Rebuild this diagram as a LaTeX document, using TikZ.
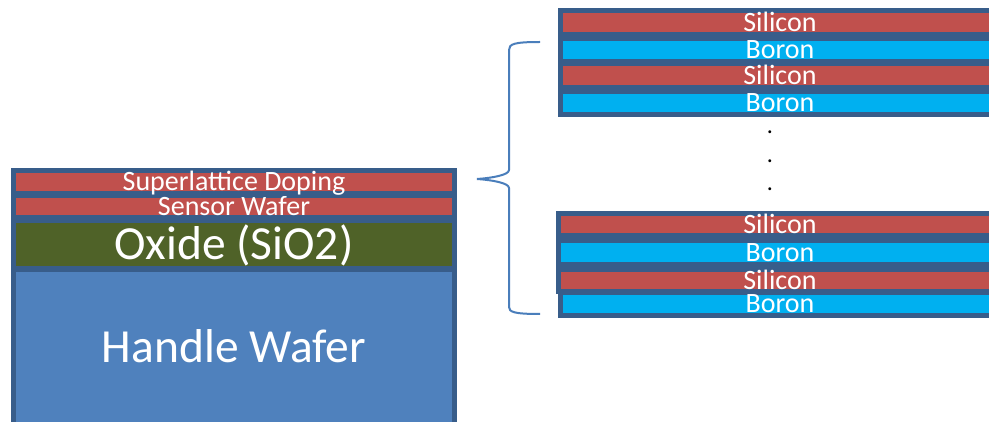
\documentclass[tikz,border=0pt]{standalone}
\usepackage{fontspec}
\setmainfont{Carlito}
\definecolor{edge}{HTML}{385D8A}
\definecolor{sired}{HTML}{C0504D}
\definecolor{boblue}{HTML}{00B0F0}
\definecolor{oxgreen}{HTML}{4F6228}
\definecolor{hwblue}{HTML}{4F81BD}
\definecolor{brace}{HTML}{4A7EBB}
\tikzset{
  layerbox/.style={draw=edge, line width=5pt, rectangle, inner sep=0pt, outer sep=0pt,
    text=white, text depth=0pt},
  smalltxt/.style={font=\fontsize{28}{30}\selectfont, text height=18pt},
  bigtxt/.style={font=\fontsize{47.5}{50}\selectfont, text height=30.6pt},
  silayer/.style={layerbox, smalltxt, fill=sired, minimum width=439pt},
  bolayer/.style={layerbox, smalltxt, fill=boblue, minimum width=439pt},
  dotmark/.style={font=\fontsize{24}{26}\selectfont, inner sep=0pt, anchor=base},
  bracepath/.style={draw=brace, line width=2pt}
}
\begin{document}
\begin{tikzpicture}[x=1pt, y=-1pt]
\useasboundingbox (0,0) rectangle (989,422);
\clip (0,0) rectangle (989,422);
\fill[white] (0,0) rectangle (989,422);
% left stack
\node[layerbox, bigtxt, fill=hwblue, minimum width=441pt, minimum height=155pt] (hw) at (234,347) {Handle Wafer};
\node[layerbox, bigtxt, fill=oxgreen, minimum width=441pt, minimum height=48pt] (ox) at (234,244.5) {Oxide (SiO2)};
\node[layerbox, smalltxt, fill=sired, minimum width=441pt, minimum height=22pt] (sw) at (234,206.5) {Sensor Wafer};
\node[layerbox, smalltxt, fill=sired, minimum width=441pt, minimum height=23pt] (sl) at (234,182) {Superlattice Doping};
% right top stack
\node[silayer, minimum height=24pt] (s1) at (780,22.5) {Silicon};
\node[bolayer, minimum height=23pt] (b1) at (780,50) {Boron};
\node[silayer, minimum height=24pt] (s2) at (780,75.5) {Silicon};
\node[bolayer, minimum height=23pt] (b2) at (780,103) {Boron};
% dots
\node[dotmark] (d1) at (770,133.5) {.};
\node[dotmark] (d2) at (770,162.5) {.};
\node[dotmark] (d3) at (770,191) {.};
% right bottom stack
\node[silayer, minimum width=443pt, minimum height=22pt] (s3) at (780,224.5) {Silicon};
\node[bolayer, minimum width=443pt, minimum height=24pt] (b3) at (780,252.5) {Boron};
\node[silayer, minimum width=443pt, minimum height=22pt] (s4) at (780,280.5) {Silicon};
\node[bolayer, minimum height=23pt] (b4) at (780,304) {Boron};
% brace
\coordinate (bt) at (540,42);
\coordinate (tip) at (477,179);
\coordinate (bb) at (540,314);
\draw[bracepath] (bt) .. controls (514,42) and (509,44) .. (509,50) -- (509,170)
  .. controls (509,175) and (492,178) .. (tip)
  .. controls (492,180) and (509,183) .. (509,188) -- (509,307)
  .. controls (509,312) and (514,314) .. (bb);
\end{tikzpicture}
\end{document}
